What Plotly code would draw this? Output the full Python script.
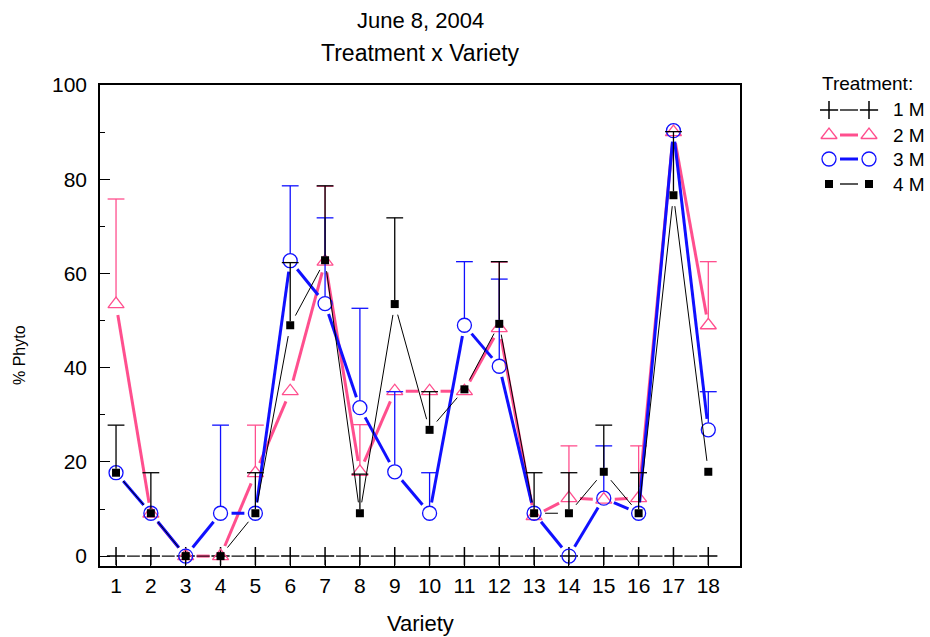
import plotly.graph_objects as go

variety = list(range(1, 19))
tick_labels = [str(v) for v in variety]

m1 = [0, 0, 0, 0, 0, 0, 0, 0, 0, 0, 0, 0, 0, 0, 0, 0, 0, 0]

m2 = [53.5, 9.0, 0.0, 0.0, 17.6, 35.0, 62.5, 17.9, 35.0, 35.0, 35.0, 48.4, 8.5, 12.3, 12.0, 12.3, 90.0, 49.0]
m2_err = [22.3, 0, 0, 0, 10.2, 0, 16.0, 10.0, 0, 0, 0, 14.0, 0, 11.1, 0, 11.1, 0, 13.5]

m3 = [17.7, 9.1, 0.0, 9.1, 9.1, 62.7, 53.6, 31.5, 17.9, 9.1, 49.0, 40.3, 9.1, 0.0, 12.3, 9.1, 90.3, 26.8]
m3_err = [0, 0, 0, 18.7, 0, 15.9, 18.2, 21.1, 17.0, 8.6, 13.5, 18.5, 0, 0, 11.1, 0, 0, 8.1]

m4 = [17.7, 9.1, 0.0, 0.0, 9.1, 49.0, 62.8, 9.1, 53.5, 26.8, 35.4, 49.3, 9.1, 9.1, 17.9, 9.1, 76.6, 17.9]
m4_err = [10.1, 8.6, 0, 0, 8.6, 13.3, 15.8, 8.3, 18.3, 8.1, 0, 13.2, 8.6, 8.6, 9.9, 8.6, 13.5, 0]

series_names = ["1 M", "2 M", "3 M", "4 M"]

FONT = "Liberation Sans, Arial, sans-serif"
PINK = "#ff4f8e"
BLUE = "#1010ff"
BLACK = "#000000"

W, H = 930, 637
ML, MR, MT, MB = 100, 10, 85, 71
PLOT_W = 640
PLOT_H = H - MT - MB
XR = [0.54, 18.91]
YR = [-2.1, 100]
px_x = PLOT_W / (XR[1] - XR[0])
px_y = PLOT_H / (YR[1] - YR[0])


def gapped(xs, ys, gap):
    ox, oy = [], []
    for i in range(len(xs) - 1):
        dx = (xs[i + 1] - xs[i]) * px_x
        dy = (ys[i + 1] - ys[i]) * px_y
        L = (dx * dx + dy * dy) ** 0.5
        if L <= 2 * gap:
            continue
        f = gap / L
        ox += [xs[i] + (xs[i + 1] - xs[i]) * f, xs[i + 1] - (xs[i + 1] - xs[i]) * f, None]
        oy += [ys[i] + (ys[i + 1] - ys[i]) * f, ys[i + 1] - (ys[i + 1] - ys[i]) * f, None]
    return ox, oy


def errbars(xs, ys, errs, start_px):
    ex, ey, cx, cy = [], [], [], []
    for x, y, e in zip(xs, ys, errs):
        if e and e > 0:
            top = y + e
            ex += [x, x, None]
            ey += [y + start_px / px_y, top, None]
            cx.append(x)
            cy.append(top)
    return ex, ey, cx, cy


fig = go.Figure()

specs = [
    (m1, None, BLACK, 1.2, dict(symbol="cross-thin-open", size=13, color=BLACK, line=dict(color=BLACK, width=1.5)), 0),
    (m2, m2_err, PINK, 3, dict(symbol="triangle-up-open", size=14, color=PINK, line=dict(color=PINK, width=1.3)), 6),
    (m3, m3_err, BLUE, 3, dict(symbol="circle-open", size=14, color=BLUE, line=dict(color=BLUE, width=1.3)), 7),
    (m4, m4_err, BLACK, 1, dict(symbol="square", size=8, color=BLACK), 4),
]

for (vals, errs, color, lw, mk, estart), name in zip(specs, series_names):
    lx, ly = gapped(variety, vals, 11)
    fig.add_trace(go.Scatter(x=lx, y=ly, mode="lines", line=dict(color=color, width=lw),
                             showlegend=False, hoverinfo="skip", cliponaxis=False))
    if errs is not None:
        ex, ey, cx, cy = errbars(variety, vals, errs, estart)
        fig.add_trace(go.Scatter(x=ex, y=ey, mode="lines", line=dict(color=color, width=1.3),
                                 showlegend=False, hoverinfo="skip"))
        fig.add_trace(go.Scatter(x=cx, y=cy, mode="markers",
                                 marker=dict(symbol="line-ew-open", size=12, color=color,
                                             line=dict(color=color, width=1.3)),
                                 showlegend=False, hoverinfo="skip"))
    fig.add_trace(go.Scatter(x=variety, y=vals, mode="markers", marker=mk, name=name,
                             showlegend=False, cliponaxis=False))


def py(pix):
    return (MT + PLOT_H - pix) / PLOT_H


def pxf(pix):
    return (pix - ML) / (W - ML - MR)


# manual legend on a pixel-mapped overlay axis
leg_rows = [110, 135, 159, 184]
for (vals, errs, color, lw, mk, estart), name, ry in zip(specs, series_names, leg_rows):
    fig.add_trace(go.Scatter(x=[9, 49], y=[ry, ry], mode="markers", marker=mk,
                             xaxis="x2", yaxis="y2", showlegend=False, hoverinfo="skip"))
    fig.add_trace(go.Scatter(x=[20, 38], y=[ry, ry], mode="lines",
                             line=dict(color=color, width=max(lw, 1.3)),
                             xaxis="x2", yaxis="y2", showlegend=False, hoverinfo="skip"))
    fig.add_annotation(x=pxf(891), y=py(ry), xref="paper", yref="paper", text=name, showarrow=False,
                       xanchor="left", yanchor="middle", font=dict(size=19, color="black", family=FONT))
fig.add_annotation(x=pxf(820), y=py(83), xref="paper", yref="paper", text="Treatment:", showarrow=False,
                   xanchor="left", yanchor="middle", font=dict(size=19, color="black", family=FONT))

plot_frac = PLOT_W / (W - ML - MR)
fig.update_layout(
    width=W, height=H,
    margin=dict(l=ML, r=MR, t=MT, b=MB, pad=0),
    paper_bgcolor="white", plot_bgcolor="white",
    font=dict(family=FONT, size=21, color="black"),
    showlegend=False,
    xaxis=dict(domain=[0, plot_frac], range=XR, tickmode="array", tickvals=variety, ticktext=tick_labels,
               ticks="inside", ticklen=6, tickwidth=1, tickcolor="black",
               showline=True, linecolor="black", linewidth=1.5, mirror=True,
               showgrid=False, zeroline=False, tickfont=dict(size=21, family=FONT)),
    yaxis=dict(range=YR, tickmode="array", tickvals=[0, 20, 40, 60, 80, 100],
               ticks="inside", ticklen=10, tickwidth=1, tickcolor="black",
               minor=dict(tickvals=[10, 30, 50, 70, 90], ticks="inside", ticklen=5, tickwidth=1, tickcolor="black"),
               showline=True, linecolor="black", linewidth=1.5, mirror=True, ticklabelstandoff=7,
               showgrid=False, zeroline=False, tickfont=dict(size=21, family=FONT)),
    xaxis2=dict(domain=[(820 - ML) / (W - ML - MR), 1], range=[0, 100], visible=False, fixedrange=True),
    yaxis2=dict(domain=[0, 1], range=[MT + PLOT_H, MT], anchor="x2", visible=False, fixedrange=True),
)

fig.add_annotation(x=0.5 * plot_frac, y=py(20), xref="paper", yref="paper", text="June 8, 2004",
                   showarrow=False, font=dict(size=22, family=FONT), xanchor="center", yanchor="middle")
fig.add_annotation(x=0.5 * plot_frac, y=py(53), xref="paper", yref="paper",
                   text="Treatment x Variety", showarrow=False, font=dict(size=23, family=FONT),
                   xanchor="center", yanchor="middle")
fig.add_annotation(x=0.5 * plot_frac, y=py(623), xref="paper", yref="paper",
                   text="Variety", showarrow=False, font=dict(size=22, family=FONT),
                   xanchor="center", yanchor="middle")
fig.add_annotation(x=pxf(20), y=py(355), xref="paper", yref="paper",
                   text="% Phyto", showarrow=False, textangle=-90, font=dict(size=16, family=FONT),
                   xanchor="center", yanchor="middle")

fig.write_html("out.html")
